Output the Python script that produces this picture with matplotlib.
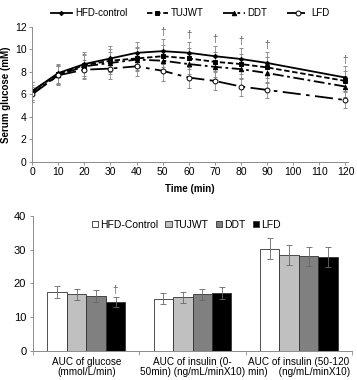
import numpy as np
import matplotlib
matplotlib.use("Agg")
from matplotlib import pyplot as plt
from matplotlib.lines import Line2D

plt.rcParams["font.family"] = ["Liberation Sans", "DejaVu Sans"]

# glucose tolerance curve
times = [0, 10, 20, 30, 40, 50, 60, 70, 80, 90, 120]
hfd = [6.3, 7.9, 8.7, 9.2, 9.7, 9.85, 9.7, 9.4, 9.15, 8.8, 7.5]
hfd_err = [0.8, 0.85, 1.05, 1.1, 1.0, 1.1, 0.95, 0.9, 1.0, 1.0, 1.0]
tujwt = [6.3, 7.8, 8.6, 9.0, 9.2, 9.4, 9.2, 8.9, 8.7, 8.4, 7.2]
tujwt_err = [0.8, 0.85, 1.0, 1.0, 1.0, 1.0, 0.95, 0.9, 0.9, 0.9, 0.9]
ddt = [6.1, 7.7, 8.5, 8.8, 9.1, 9.0, 8.7, 8.45, 8.25, 7.9, 6.7]
ddt_err = [0.75, 0.85, 1.0, 1.0, 1.0, 0.95, 0.9, 0.9, 0.9, 0.85, 0.9]
lfd = [6.0, 7.7, 8.2, 8.3, 8.5, 8.1, 7.5, 7.2, 6.7, 6.4, 5.5]
lfd_err = [0.7, 0.8, 0.85, 0.9, 0.9, 0.9, 0.9, 0.85, 0.8, 0.75, 0.7]
dagger_times = [50, 60, 70, 80, 90, 120]

# AUC bars
auc_cats = ["AUC of glucose\n(mmol/L/min)",
            "AUC of insulin (0-\n50min) (ng/mL/minX10)",
            "AUC of insulin (50-120\nmin)    (ng/mL/minX10)"]
auc_groups = ["HFD-Control", "TUJWT", "DDT", "LFD"]
auc_vals = [[17.5, 15.5, 30.3],
            [16.8, 15.9, 28.4],
            [16.2, 16.8, 28.1],
            [14.4, 17.2, 27.8]]
auc_err = [[1.9, 1.7, 3.2],
           [1.6, 1.6, 2.9],
           [1.8, 1.7, 2.8],
           [1.5, 1.8, 3.0]]
bar_colors = ["white", "#c0c0c0", "#808080", "black"]

fig = plt.figure(figsize=(3.57, 3.80), dpi=100)

# ---- top: glucose curve ----
ax1 = fig.add_axes([0.09, 0.574, 0.885, 0.355])
ecol = "0.55"
series = [
    (hfd, hfd_err, "HFD-control", dict(ls="-", marker="D", ms=2.2, mfc="black")),
    (tujwt, tujwt_err, "TUJWT", dict(ls=(0, (3, 1.5)), marker="s", ms=3.5, mfc="black")),
    (ddt, ddt_err, "DDT", dict(ls=(0, (6, 2, 1.5, 2)), marker="^", ms=3.2, mfc="black")),
    (lfd, lfd_err, "LFD", dict(ls=(0, (10, 3, 2, 3)), marker="o", ms=3.5, mfc="white")),
]
handles = []
for y, e, lab, st in series:
    ax1.errorbar(times, y, yerr=e, color="black", lw=1.3, mec="black", mew=0.7,
                 ecolor=ecol, elinewidth=0.6, capsize=1.5, capthick=0.6, **st)
    handles.append(Line2D([], [], color="black", lw=1.3, mec="black", mew=0.7,
                          label=lab, **st))
for t in dagger_times:
    i = times.index(t)
    ax1.text(t, hfd[i] + hfd_err[i] + 0.15, "\u2020", ha="center", va="bottom",
             fontsize=7, color="0.35")

ax1.set_xlim(0, 121)
ax1.set_ylim(0, 12)
ax1.set_xticks(np.arange(0, 121, 10))
ax1.set_yticks(np.arange(0, 13, 2))
ax1.tick_params(labelsize=7.5, length=2, width=0.6, color="0.5", pad=2)
ax1.set_xlabel("Time (min)", fontsize=7, fontweight="bold", labelpad=5)
ax1.set_ylabel("Serum glucose (mM)", fontsize=7, fontweight="bold", labelpad=3)
for s in ["top", "right"]:
    ax1.spines[s].set_visible(False)
for s in ["left", "bottom"]:
    ax1.spines[s].set_color("0.55")
    ax1.spines[s].set_linewidth(0.7)
ax1.legend(handles=handles, loc="lower center", bbox_to_anchor=(0.5, 1.0), ncol=4,
           frameon=False, fontsize=7, handlelength=2.2, handletextpad=0.3,
           columnspacing=2.0, borderaxespad=0.5)

# ---- bottom: AUC bars ----
ax2 = fig.add_axes([0.093, 0.076, 0.893, 0.356])
x = np.arange(len(auc_cats))
w = 0.183
for k in range(4):
    ax2.bar(x + (k - 1.5) * w, auc_vals[k], w, yerr=auc_err[k], color=bar_colors[k],
            edgecolor="0.2", linewidth=0.6, label=auc_groups[k],
            error_kw=dict(ecolor="0.4", elinewidth=0.6, capsize=2, capthick=0.6))
ax2.text(x[0] + 1.5 * w, auc_vals[3][0] + auc_err[3][0] + 0.6, "\u2020",
         ha="center", va="bottom", fontsize=7, color="0.35")

ax2.set_xlim(-0.5, 2.5)
ax2.set_ylim(0, 40)
ax2.set_yticks(np.arange(0, 41, 10))
ax2.set_xticks(x)
ax2.set_xticklabels(auc_cats, fontsize=7.2, linespacing=1.0)
ax2.set_xticks([-0.5, 0.5, 1.5, 2.5], minor=True)
ax2.tick_params(axis="x", which="major", length=0, pad=4)
ax2.tick_params(axis="x", which="minor", length=3, width=0.6, color="0.55")
ax2.tick_params(axis="y", labelsize=8, length=2, width=0.6, color="0.5", pad=3)
for s in ["top", "right"]:
    ax2.spines[s].set_visible(False)
for s in ["left", "bottom"]:
    ax2.spines[s].set_color("0.55")
    ax2.spines[s].set_linewidth(0.7)
ax2.legend(loc="upper center", bbox_to_anchor=(0.48, 1.04), ncol=4, frameon=False,
           fontsize=7.5, handlelength=0.6, handleheight=0.6, handletextpad=0.2,
           columnspacing=0.7)

fig.savefig("out.png", dpi=100)
